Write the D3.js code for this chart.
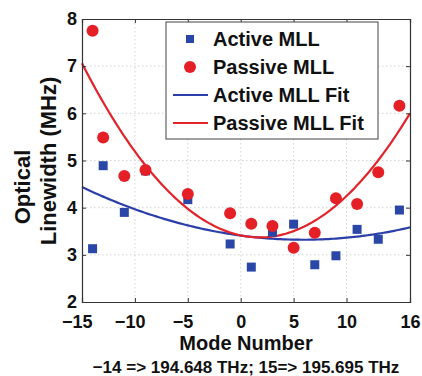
<!DOCTYPE html>
<html>
<head>
<meta charset="utf-8">
<script src="https://cdn.jsdelivr.net/npm/d3@7"></script>
<style>
  html, body { margin: 0; padding: 0; background: #fff; }
  svg { display: block; font-family: "Liberation Sans", Arial, Helvetica, sans-serif; }
</style>
</head>
<body>
<svg id="chart" width="422" height="376"></svg>
<script>
// Measured optical linewidth per longitudinal mode
const activeModes  = [-14, -13, -11, -9, -5, -1, 1, 3, 5, 7, 9, 11, 13, 15];
const activeWidth  = [3.13, 4.89, 3.90, 4.78, 4.17, 3.23, 2.74, 3.48, 3.65, 2.79, 2.98, 3.54, 3.33, 3.95];
const passiveModes = [-14, -13, -11, -9, -5, -1, 1, 3, 5, 7, 9, 11, 13, 15];
const passiveWidth = [7.75, 5.49, 4.67, 4.80, 4.29, 3.88, 3.66, 3.61, 3.15, 3.47, 4.20, 4.08, 4.75, 6.16];

// Quadratic fits: y = a*x^2 + b*x + c
const activeFitCoef  = [0.00256, -0.0302, 3.409];
const passiveFitCoef = [0.01306, -0.0473, 3.413];

const xTicks = [-15, -10, -5, 0, 5, 10, 16];
const yTicks = [2, 3, 4, 5, 6, 7, 8];
const xDomain = [-15, 16];
const yDomain = [2, 8];

const legendLabels = ["Active MLL", "Passive MLL", "Active MLL Fit", "Passive MLL Fit"];

const blue = "#2a47a8", red = "#e41f26";
const blueLine = "#2c3ea8", redLine = "#e2232a";
const FONT = "'Liberation Sans', Arial, sans-serif";

const svg = d3.select("#chart");
const L = 82, R = 410, T = 19, B = 302;

const x = d3.scaleLinear().domain(xDomain).range([L, R]);
const y = d3.scaleLinear().domain(yDomain).range([B, T]);

// dotted grid
const grid = svg.append("g").attr("stroke", "#c8c8c8").attr("stroke-width", 0.8)
  .attr("stroke-dasharray", "1.5,2.5");
grid.selectAll(".gx").data(xTicks.slice(1, -1)).join("line")
  .attr("x1", d => x(d)).attr("x2", d => x(d)).attr("y1", T).attr("y2", B);
grid.selectAll(".gy").data(yTicks.slice(1, -1)).join("line")
  .attr("y1", d => y(d)).attr("y2", d => y(d)).attr("x1", L).attr("x2", R);

// fit curves
function poly(c) { return v => c[0] * v * v + c[1] * v + c[2]; }
const xs = d3.range(xDomain[0], xDomain[1] + 0.001, 0.25);
const line = d3.line().x(d => x(d[0])).y(d => y(d[1]));
svg.append("path").datum(xs.map(v => [v, poly(activeFitCoef)(v)]))
  .attr("d", line).attr("fill", "none").attr("stroke", blueLine).attr("stroke-width", 2.2);
svg.append("path").datum(xs.map(v => [v, poly(passiveFitCoef)(v)]))
  .attr("d", line).attr("fill", "none").attr("stroke", redLine).attr("stroke-width", 2.2);

// markers: squares then circles
const sq = 9, r = 6;
svg.append("g").selectAll("rect").data(activeModes.map((m, i) => [m, activeWidth[i]])).join("rect")
  .attr("x", d => x(d[0]) - sq / 2).attr("y", d => y(d[1]) - sq / 2)
  .attr("width", sq).attr("height", sq).attr("fill", blue);
svg.append("g").selectAll("circle").data(passiveModes.map((m, i) => [m, passiveWidth[i]])).join("circle")
  .attr("cx", d => x(d[0])).attr("cy", d => y(d[1])).attr("r", r).attr("fill", red);

// axes (inward ticks on all four sides)
const fmt = d => (d < 0 ? "\u2212" + Math.abs(d) : String(d));
const axB = svg.append("g").attr("transform", `translate(0,${B})`)
  .call(d3.axisBottom(x).tickValues(xTicks).tickSize(-4).tickFormat(fmt));
const axT = svg.append("g").attr("transform", `translate(0,${T})`)
  .call(d3.axisTop(x).tickValues(xTicks).tickSize(-4).tickFormat(""));
const axL = svg.append("g").attr("transform", `translate(${L},0)`)
  .call(d3.axisLeft(y).tickValues(yTicks).tickSize(-4).tickPadding(5).tickFormat(d => String(d)));
const axR = svg.append("g").attr("transform", `translate(${R},0)`)
  .call(d3.axisRight(y).tickValues(yTicks).tickSize(-4).tickFormat(""));
[axB, axT, axL, axR].forEach(g => {
  g.select(".domain").attr("stroke", "#333").attr("stroke-width", 1.2);
  g.selectAll(".tick line").attr("stroke", "#333");
});
svg.selectAll(".tick text").attr("fill", "#111").attr("font-size", 18).attr("font-weight", "bold")
  .attr("font-family", FONT);
axB.selectAll(".tick text").attr("dy", null).attr("y", 26);

// keep digits centred on the tick; the minus sign hangs to the left
axB.selectAll(".tick text").each(function (d) {
  if (d >= 0) return;
  const t = d3.select(this);
  const full = this.getComputedTextLength();
  const tmp = svg.append("text").attr("font-size", 18).attr("font-weight", "bold")
    .attr("font-family", FONT).text(String(Math.abs(d)));
  const dw = tmp.node().getComputedTextLength();
  tmp.remove();
  t.attr("x", dw / 2 - full / 2);
});

// axis titles
svg.append("text").attr("x", (L + R) / 2).attr("y", 350).attr("text-anchor", "middle")
  .attr("font-size", 20).attr("font-weight", "bold").attr("fill", "#111").text("Mode Number");
svg.append("text").attr("x", (L + R) / 2).attr("y", 373).attr("text-anchor", "middle")
  .attr("font-size", 17).attr("font-weight", "bold").attr("fill", "#111")
  .text("\u221214 => 194.648 THz; 15=> 195.695 THz");
svg.append("text").attr("transform", "translate(30,187) rotate(-90)").attr("text-anchor", "middle")
  .attr("font-size", 22).attr("font-weight", "bold").attr("fill", "#111").text("Optical");
svg.append("text").attr("transform", "translate(56,161) rotate(-90)").attr("text-anchor", "middle")
  .attr("font-size", 22).attr("font-weight", "bold").attr("fill", "#111").text("Linewidth (MHz)");

// legend
const lg = svg.append("g");
lg.append("rect").attr("x", 166).attr("y", 22).attr("width", 212).attr("height", 117)
  .attr("fill", "#fff").attr("stroke", "#444").attr("stroke-width", 1);
const rowY = [39, 67, 95, 123];
lg.append("rect").attr("x", 190 - 4).attr("y", rowY[0] - 4).attr("width", 8).attr("height", 8).attr("fill", blue);
lg.append("circle").attr("cx", 190).attr("cy", rowY[1]).attr("r", r).attr("fill", red);
lg.append("line").attr("x1", 173).attr("x2", 208).attr("y1", rowY[2]).attr("y2", rowY[2])
  .attr("stroke", blueLine).attr("stroke-width", 2.2);
lg.append("line").attr("x1", 173).attr("x2", 208).attr("y1", rowY[3]).attr("y2", rowY[3])
  .attr("stroke", redLine).attr("stroke-width", 2.2);
lg.selectAll(".lt").data(legendLabels).join("text")
  .attr("x", 213).attr("y", (d, i) => rowY[i]).attr("dy", "0.36em")
  .attr("font-size", 20).attr("font-weight", "bold").attr("fill", "#111").text(d => d);
</script>
</body>
</html>
